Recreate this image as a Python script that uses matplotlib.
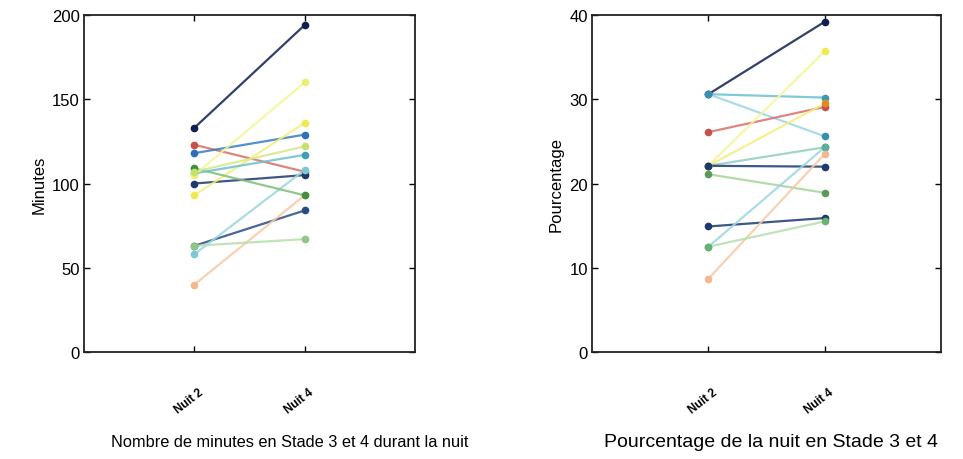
import numpy as np
import matplotlib
matplotlib.use("Agg")
import matplotlib.pyplot as plt
import matplotlib.transforms as mtransforms

plt.rcParams['font.family'] = ['Liberation Sans', 'DejaVu Sans']

nights = ["Nuit 2", "Nuit 4"]

# minutes en stade 3 et 4 (nuit 2, nuit 4)
min_n2 = [133, 123, 118, 100, 63, 58, 40, 63, 93, 109, 106, 105, 107]
min_n4 = [194, 107, 129, 105, 84, 108, 93, 67, 136, 93, 117, 160, 122]
min_colors = ['#0f2050', '#d9706a', '#3a7cc4', '#1c3a6e', '#2a4a85', '#9ad6e0', '#f6c9a5',
              '#b5dfae', '#f3ef80', '#7fbf7a', '#6cc0cf', '#f5f59a', '#d6e88a']
min_mk_colors = ['#0f2050', '#c8504a', '#2f6fb8', '#1c3a6e', '#2a4a85', '#7cc8d4', '#f2b890',
                 '#8cc884', '#f0ea50', '#3f8f3f', '#3aa0b4', '#eeee70', '#c8e070']

# pourcentage de la nuit en stade 3 et 4
pct_n2 = [30.6, 30.6, 30.6, 26.1, 22.1, 22.1, 22.1, 22.1, 21.1, 14.9, 12.5, 8.7, 12.5]
pct_n4 = [39.2, 30.2, 25.6, 29.1, 35.7, 29.5, 24.3, 22.0, 18.9, 15.9, 24.3, 23.5, 15.5]
pct_colors = ['#0f2050', '#6cc0cf', '#9ad6e0', '#d9706a', '#f5f59a', '#f3ef80', '#8fcfc0',
              '#1c3a6e', '#a8d49a', '#1c3a6e', '#9ad6e0', '#f6c9a5', '#b5dfae']
pct_mk_colors = ['#0f2050', '#3a9ab0', '#3a8fb0', '#c8504a', '#f0ea50', '#e08a20', '#3f8f3f',
                 '#1c3a6e', '#5a9a5a', '#1c3a6e', '#5ab0a0', '#f2b890', '#6ab070']

fig = plt.figure(figsize=(9.63, 4.6), dpi=100)
ax1 = fig.add_axes([0.0872, 0.2326, 0.3437, 0.7326])
ax2 = fig.add_axes([0.6148, 0.2326, 0.3624, 0.7326])


def draw(ax, n2, n4, colors, mk_colors, ymax, ylabel):
    x = [1, 2]
    for a, b, c, mc in zip(n2, n4, colors, mk_colors):
        ax.plot(x, [a, b], color=c, lw=1.6, alpha=0.85, zorder=2)
        ax.plot(x, [a, b], ls='none', marker='o', ms=4.5, color=mc, zorder=3)
    ax.set_xlim(0, 3)
    ax.set_ylim(0, ymax)
    ax.set_yticks(np.linspace(0, ymax, 5))
    ax.set_xticks(x)
    ax.set_xticklabels([])
    ax.tick_params(direction='in', top=True, right=True, length=4, width=1,
                   labelsize=12, pad=3)
    for s in ax.spines.values():
        s.set_linewidth(1.3)
        s.set_color('#222222')
    ax.set_ylabel(ylabel, fontsize=12)
    trans = mtransforms.blended_transform_factory(ax.transData, ax.transAxes)
    for xi, lab in zip(x, nights):
        ax.text(xi - 0.05, -0.145, lab, transform=trans, rotation=38,
                ha='center', va='center', fontsize=8.5, fontweight='bold')


draw(ax1, min_n2, min_n4, min_colors, min_mk_colors, 200, "Minutes")
draw(ax2, pct_n2, pct_n4, pct_colors, pct_mk_colors, 40, "Pourcentage")

fig.text(0.301, 0.037, "Nombre de minutes en Stade 3 et 4 durant la nuit",
         ha='center', va='center', fontsize=11.8)
fig.text(0.801, 0.037, "Pourcentage de la nuit en Stade 3 et 4",
         ha='center', va='center', fontsize=14)

fig.savefig("out.png", dpi=100)
